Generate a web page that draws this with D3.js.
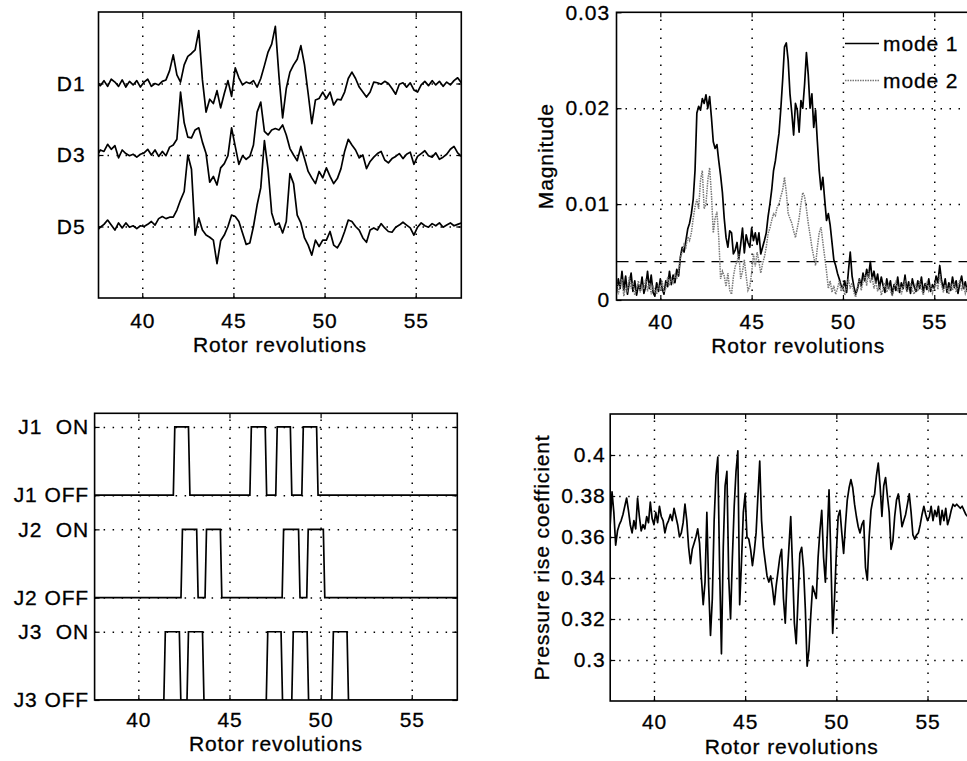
<!DOCTYPE html>
<html><head><meta charset="utf-8">
<script src="https://cdn.jsdelivr.net/npm/d3@7"></script>
<style>
body{margin:0;background:#fff;}
svg{display:block;}
text{font-family:"Liberation Sans",Arial,Helvetica,sans-serif;font-size:21px;letter-spacing:0.9px;fill:#000;stroke:#000;stroke-width:0.3px;}
</style></head><body>
<svg id="c" width="967" height="761"></svg>
<script>
// ---------- shared ----------
const xDomain=[37.6,57.5];
const xTicks=[40,45,50,55];
const xLabel="Rotor revolutions";

// ---------- panel A : sensor traces (offset display) ----------
const traceStartA=37.5, traceStepA=0.2;
const D1=[0.00,-0.03,0.04,-0.04,0.06,0.02,-0.04,0.05,-0.05,0.03,
 -0.02,0.04,-0.05,0.02,0.06,-0.04,0.00,-0.02,0.03,0.05,
 0.18,0.40,0.12,0.02,0.26,0.38,0.42,0.47,0.74,0.05,
 -0.40,-0.22,-0.28,-0.10,-0.34,-0.14,0.04,-0.18,0.22,0.08,
 -0.02,0.02,0.00,0.04,-0.05,0.07,0.25,0.44,0.55,0.80,
 0.10,-0.48,-0.07,0.16,0.26,0.34,0.53,0.26,-0.14,-0.56,
 -0.23,-0.21,-0.12,-0.21,-0.12,-0.30,-0.22,-0.23,-0.12,0.07,
 0.16,0.07,-0.05,-0.12,-0.19,-0.12,0.02,0.01,-0.01,0.03,
 0.00,-0.07,-0.15,-0.01,0.01,-0.05,0.01,-0.09,-0.12,-0.02,
 0.03,-0.03,0.04,-0.02,0.03,-0.04,0.02,-0.02,0.04,0.08,0.01];
const D3=[-0.02,0.07,0.05,0.15,0.08,0.13,-0.04,0.07,0.02,-0.01,
 0.01,-0.03,0.01,0.03,0.08,0.00,0.07,-0.02,0.05,-0.01,
 0.11,0.14,0.22,0.88,0.45,0.25,0.24,0.35,0.38,0.18,
 0.02,-0.38,-0.30,-0.42,-0.18,-0.12,-0.01,0.38,0.12,-0.13,
 -0.01,-0.06,-0.02,0.14,0.60,0.74,0.33,0.28,0.35,0.37,
 0.35,0.42,0.28,0.09,0.00,-0.08,0.12,-0.05,-0.23,-0.32,
 -0.40,-0.23,-0.32,-0.18,-0.30,-0.40,-0.33,-0.19,0.05,0.22,
 0.14,0.07,-0.04,0.00,-0.19,-0.09,-0.03,0.02,0.05,-0.07,
 -0.11,-0.05,-0.02,0.02,-0.05,0.01,0.04,-0.13,-0.02,0.02,
 0.06,-0.01,-0.03,0.03,-0.06,-0.03,0.01,0.08,0.12,0.03,-0.02];
const D5=[-0.06,-0.01,0.03,0.09,0.02,-0.05,0.05,-0.02,0.05,-0.01,
 0.01,-0.03,0.01,0.00,0.03,0.07,0.02,0.11,0.14,0.11,
 0.13,0.13,0.23,0.37,0.49,1.00,0.80,-0.12,0.12,-0.05,
 -0.12,-0.15,-0.19,-0.52,-0.20,-0.12,0.00,0.16,0.14,0.07,
 -0.09,-0.25,-0.23,0.00,0.30,0.54,1.20,0.80,0.19,0.02,
 0.05,-0.09,0.07,0.74,0.60,0.16,0.05,-0.16,-0.26,-0.40,
 -0.19,-0.28,-0.19,-0.19,-0.07,-0.26,-0.30,-0.21,-0.07,0.09,
 0.07,0.00,-0.05,-0.16,-0.22,-0.05,-0.02,-0.05,0.04,-0.02,
 -0.07,-0.08,-0.01,0.02,0.06,0.02,-0.02,-0.12,-0.01,0.05,
 0.01,-0.01,0.04,0.01,0.05,-0.01,0.02,0.05,0.01,0.03,0.05];
const sensorNames=["D1","D3","D5"];
const sensorOffsets=[3,2,1];

// ---------- panel B : mode magnitudes ----------
const traceStartB=37.5, traceStepB=0.1;
const mode1=[0.0015,0.0008,0.0022,0.0012,0.0030,0.0010,0.0025,0.0006,0.0018,0.0028,
 0.0009,0.0020,0.0005,0.0016,0.0010,0.0024,0.0007,0.0014,0.0030,0.0012,
 0.0026,0.0008,0.0004,0.0018,0.0009,0.0022,0.0012,0.0006,0.0020,0.0014,
 0.0030,0.0016,0.0026,0.0018,0.0032,0.0025,0.0045,0.0055,0.0050,0.0062,
 0.0074,0.0080,0.0090,0.0105,0.0135,0.0195,0.0202,0.0198,0.0210,0.0205,
 0.0214,0.0200,0.0212,0.0190,0.0165,0.0158,0.0162,0.0145,0.0130,0.0112,
 0.0085,0.0065,0.0055,0.0072,0.0070,0.0048,0.0052,0.0060,0.0043,0.0058,
 0.0075,0.0049,0.0068,0.0060,0.0055,0.0075,0.0062,0.0070,0.0058,0.0070,
 0.0048,0.0055,0.0062,0.0070,0.0087,0.0100,0.0115,0.0135,0.0145,0.0160,
 0.0174,0.0200,0.0230,0.0264,0.0268,0.0250,0.0215,0.0195,0.0172,0.0205,
 0.0198,0.0175,0.0208,0.0200,0.0225,0.0258,0.0235,0.0200,0.0215,0.0180,
 0.0198,0.0165,0.0135,0.0115,0.0128,0.0105,0.0083,0.0090,0.0078,0.0060,
 0.0042,0.0036,0.0028,0.0022,0.0015,0.0012,0.0020,0.0008,0.0030,0.0050,
 0.0025,0.0014,0.0006,0.0012,0.0022,0.0015,0.0028,0.0020,0.0032,0.0024,
 0.0040,0.0022,0.0030,0.0018,0.0027,0.0012,0.0024,0.0015,0.0008,0.0022,
 0.0012,0.0020,0.0006,0.0016,0.0010,0.0024,0.0008,0.0018,0.0012,0.0026,
 0.0010,0.0019,0.0007,0.0022,0.0014,0.0009,0.0020,0.0012,0.0024,0.0008,
 0.0017,0.0011,0.0022,0.0009,0.0016,0.0012,0.0025,0.0018,0.0036,0.0020,
 0.0012,0.0022,0.0008,0.0018,0.0010,0.0024,0.0013,0.0020,0.0007,0.0017,
 0.0025,0.0012,0.0019,0.0009,0.0022,0.0014,0.0028,0.0016,0.0023,0.0030,0.0018];
const mode2=[0.0010,0.0020,0.0006,0.0016,0.0022,0.0004,0.0014,0.0010,0.0024,0.0012,
 0.0018,0.0005,0.0012,0.0020,0.0008,0.0015,0.0011,0.0022,0.0009,0.0018,
 0.0006,0.0014,0.0010,0.0006,0.0016,0.0010,0.0020,0.0008,0.0012,0.0024,
 0.0015,0.0022,0.0018,0.0026,0.0022,0.0030,0.0045,0.0050,0.0058,0.0055,
 0.0066,0.0062,0.0070,0.0085,0.0097,0.0105,0.0095,0.0125,0.0135,0.0095,
 0.0100,0.0125,0.0138,0.0110,0.0070,0.0085,0.0092,0.0065,0.0022,0.0030,
 0.0025,0.0014,0.0028,0.0010,0.0006,0.0024,0.0035,0.0040,0.0048,0.0022,
 0.0030,0.0042,0.0025,0.0010,0.0014,0.0028,0.0048,0.0035,0.0050,0.0040,
 0.0028,0.0038,0.0045,0.0055,0.0069,0.0075,0.0083,0.0090,0.0088,0.0097,
 0.0100,0.0108,0.0115,0.0128,0.0112,0.0090,0.0085,0.0080,0.0072,0.0065,
 0.0075,0.0085,0.0100,0.0112,0.0108,0.0095,0.0080,0.0068,0.0055,0.0045,
 0.0036,0.0055,0.0070,0.0076,0.0060,0.0045,0.0030,0.0012,0.0020,0.0008,
 0.0015,0.0006,0.0012,0.0020,0.0009,0.0016,0.0005,0.0014,0.0022,0.0012,
 0.0018,0.0008,0.0003,0.0014,0.0022,0.0010,0.0019,0.0026,0.0015,0.0030,
 0.0018,0.0024,0.0012,0.0020,0.0009,0.0016,0.0005,0.0012,0.0018,0.0008,
 0.0015,0.0010,0.0004,0.0013,0.0020,0.0009,0.0016,0.0006,0.0014,0.0019,
 0.0008,0.0012,0.0018,0.0010,0.0006,0.0015,0.0009,0.0020,0.0012,0.0005,
 0.0014,0.0018,0.0010,0.0016,0.0007,0.0013,0.0020,0.0011,0.0027,0.0015,
 0.0008,0.0016,0.0012,0.0006,0.0017,0.0010,0.0019,0.0008,0.0014,0.0021,
 0.0010,0.0016,0.0007,0.0013,0.0018,0.0009,0.0020,0.0012,0.0017,0.0024,0.0013];
const threshold=0.004;
const magTicks=[0,0.01,0.02,0.03];
const magTickLabels=["0","0.01","0.02","0.03"];
const legendNames=["mode 1","mode 2"];

// ---------- panel C : jet states ----------
const jetTickValues=[8,6,5,3,2,0];
const jetTickLabels=["J1  ON","J1 OFF","J2  ON","J2 OFF","J3  ON","J3 OFF"];
const jetOffLevel=[6,3,0];
const jetOnLevel=[8,5,2];
const jetPulses=[
 [[42.0,42.75],[46.2,46.96],[47.62,48.34],[49.05,49.78]],
 [[42.42,43.2],[43.74,44.5],[47.97,48.79],[49.32,50.15]],
 [[41.48,42.25],[42.75,43.52],[47.1,47.83],[48.5,49.26],[50.7,51.45]]
];
const switchTime=0.08;

// ---------- panel D : pressure rise coefficient ----------
const traceStartD=37.5, traceStepD=0.1;
const prc=[0.372,0.366,0.382,0.372,0.356,0.363,0.366,0.368,0.371,0.375,
 0.379,0.373,0.366,0.362,0.368,0.364,0.379,0.370,0.363,0.366,
 0.364,0.370,0.367,0.377,0.369,0.366,0.372,0.367,0.375,0.370,
 0.368,0.362,0.366,0.368,0.371,0.368,0.374,0.370,0.366,0.360,
 0.362,0.367,0.376,0.368,0.355,0.347,0.354,0.357,0.360,0.364,
 0.357,0.340,0.327,0.338,0.372,0.336,0.312,0.330,0.368,0.390,
 0.399,0.345,0.303,0.355,0.385,0.392,0.340,0.320,0.350,0.375,
 0.392,0.402,0.327,0.348,0.372,0.381,0.360,0.359,0.354,0.346,
 0.353,0.362,0.380,0.397,0.368,0.355,0.348,0.341,0.338,0.341,
 0.335,0.327,0.336,0.343,0.350,0.354,0.330,0.318,0.340,0.355,
 0.370,0.345,0.318,0.308,0.330,0.352,0.355,0.345,0.325,0.297,
 0.305,0.322,0.336,0.333,0.330,0.350,0.363,0.373,0.350,0.338,
 0.360,0.383,0.350,0.313,0.330,0.352,0.370,0.373,0.362,0.352,
 0.366,0.378,0.384,0.388,0.384,0.376,0.370,0.365,0.362,0.366,
 0.368,0.345,0.339,0.360,0.373,0.378,0.381,0.390,0.396,0.385,
 0.370,0.385,0.389,0.380,0.372,0.354,0.358,0.370,0.378,0.381,
 0.374,0.365,0.368,0.371,0.376,0.381,0.372,0.361,0.359,0.361,
 0.362,0.366,0.371,0.375,0.371,0.368,0.370,0.375,0.368,0.373,
 0.370,0.375,0.366,0.373,0.368,0.374,0.366,0.369,0.373,0.376,
 0.375,0.376,0.375,0.374,0.375,0.373,0.371,0.370,0.369,0.370,0.368];
const prcTicks=[0.3,0.32,0.34,0.36,0.38,0.4];
const prcTickLabels=["0.3","0.32","0.34","0.36","0.38","0.4"];

// ================= drawing =================
const svg=d3.select("#c");
const defs=svg.append("defs");

function panel(c){
  const x=d3.scaleLinear().domain(xDomain).range([c.x0,c.x1]);
  const y=d3.scaleLinear().domain(c.yDomain).range([c.y1,c.y0]);
  const g=svg.append("g");
  defs.append("clipPath").attr("id",c.id).append("rect")
    .attr("x",c.x0).attr("y",c.y0).attr("width",c.x1-c.x0).attr("height",c.y1-c.y0);
  // grid
  const gg=g.append("g");
  gg.append("g").attr("transform",`translate(0,${c.y1})`)
    .call(d3.axisBottom(x).tickValues(xTicks).tickSize(-(c.y1-c.y0)).tickFormat(""));
  gg.append("g").attr("transform",`translate(${c.x0},0)`)
    .call(d3.axisLeft(y).tickValues(c.gridY).tickSize(-(c.x1-c.x0)).tickFormat(""));
  gg.selectAll(".domain").remove();
  gg.selectAll("line").attr("stroke","#000").attr("stroke-width",1.5).attr("stroke-dasharray","1.5,7.5");
  // axes
  const ax=g.append("g").attr("transform",`translate(0,${c.y1})`)
    .call(d3.axisBottom(x).tickValues(xTicks).tickSizeInner(-5).tickSizeOuter(0).tickPadding(c.xPad));
  const axT=g.append("g").attr("transform",`translate(0,${c.y0})`)
    .call(d3.axisTop(x).tickValues(xTicks).tickSizeInner(-5).tickSizeOuter(0).tickFormat(""));
  const ay=g.append("g").attr("transform",`translate(${c.x0},0)`)
    .call(d3.axisLeft(y).tickValues(c.yTicks).tickSizeInner(-5).tickSizeOuter(0).tickPadding(c.yPad)
      .tickFormat((d,i)=>c.yLabels[i]));
  const ayR=g.append("g").attr("transform",`translate(${c.x1},0)`)
    .call(d3.axisRight(y).tickValues(c.yTicks).tickSizeInner(-5).tickSizeOuter(0).tickFormat(""));
  [ax,axT,ay,ayR].forEach(a=>{a.select(".domain").remove();a.selectAll("line").attr("stroke","#000").attr("stroke-width",1.2);});
  ay.selectAll("text").style("white-space","pre").attr("xml:space","preserve");
  const plot=g.append("g").attr("clip-path",`url(#${c.id})`);
  const frame=()=>g.append("rect").attr("x",c.x0).attr("y",c.y0).attr("width",c.x1-c.x0).attr("height",c.y1-c.y0)
     .attr("fill","none").attr("stroke","#000").attr("stroke-width",1.6);
  g.append("text").attr("x",(c.x0+c.x1)/2).attr("y",c.xLabelY).attr("text-anchor","middle").text(xLabel);
  if(c.yTitle){
    g.append("text").attr("transform",`translate(${c.yTitleX},${(c.y0+c.y1)/2}) rotate(-90)`)
      .attr("text-anchor","middle").text(c.yTitle);
  }
  return {x,y,plot,frame,g};
}

// ---- Panel A ----
const A=panel({id:"cA",x0:98.5,x1:461.3,y0:12,y1:298,yDomain:[0,4],gridY:[1,2,3],
  yTicks:sensorOffsets,yLabels:sensorNames,xPad:15,yPad:13,xLabelY:352});
[D1,D3,D5].forEach((arr,k)=>{
  const line=d3.line().x((d,i)=>A.x(traceStartA+i*traceStepA)).y(d=>A.y(sensorOffsets[k]+d));
  A.plot.append("path").attr("d",line(arr)).attr("fill","none").attr("stroke","#000")
    .attr("stroke-width",1.7).attr("stroke-linejoin","round");
});
A.frame();

// ---- Panel B ----
const B=panel({id:"cB",x0:616.5,x1:979.9,y0:12.3,y1:300,yDomain:[0,0.03],gridY:[0.01,0.02],
  yTicks:magTicks,yLabels:magTickLabels,xPad:14,yPad:6.5,xLabelY:353,yTitle:"Magnitude",yTitleX:553});
B.plot.append("line").attr("x1",B.x(xDomain[0])).attr("x2",B.x(xDomain[1]))
  .attr("y1",B.y(threshold)).attr("y2",B.y(threshold))
  .attr("stroke","#000").attr("stroke-width",1.3).attr("stroke-dasharray","12,7");
const lineB=d3.line().x((d,i)=>B.x(traceStartB+i*traceStepB)).y(d=>B.y(d));
B.plot.append("path").attr("d",lineB(mode1)).attr("fill","none").attr("stroke","#000").attr("stroke-width",1.7).attr("stroke-linejoin","round");
B.plot.append("path").attr("d",lineB(mode2)).attr("fill","none").attr("stroke","#777").attr("stroke-width",1.5).attr("stroke-dasharray","1.5,1");
B.frame();
// legend
const legY=[43.5,80.5];
legendNames.forEach((name,i)=>{
  B.g.append("line").attr("x1",845).attr("x2",879).attr("y1",legY[i]).attr("y2",legY[i])
    .attr("stroke",i===0?"#000":"#777").attr("stroke-width",i===0?1.6:1.4)
    .attr("stroke-dasharray",i===0?null:"1.5,1");
  B.g.append("text").attr("x",883).attr("y",legY[i]+7).text(name);
});

// ---- Panel C ----
const C=panel({id:"cC",x0:94.6,x1:457.3,y0:413.3,y1:700,yDomain:[0,8.4],gridY:[2,3,5,6,8],
  yTicks:jetTickValues,yLabels:jetTickLabels,xPad:12,yPad:5.5,xLabelY:751});
jetPulses.forEach((pulses,k)=>{
  const pts=[[xDomain[0],jetOffLevel[k]]];
  pulses.forEach(([a,b])=>{
    pts.push([a-switchTime,jetOffLevel[k]],[a,jetOnLevel[k]],[b,jetOnLevel[k]],[b+switchTime,jetOffLevel[k]]);
  });
  pts.push([xDomain[1],jetOffLevel[k]]);
  const line=d3.line().x(d=>C.x(d[0])).y(d=>C.y(d[1]));
  C.plot.append("path").attr("d",line(pts)).attr("fill","none").attr("stroke","#000").attr("stroke-width",1.7);
});
C.frame();

// ---- Panel D ----
const D=panel({id:"cD",x0:610.2,x1:973.1,y0:414,y1:701,yDomain:[0.28,0.42],gridY:prcTicks,
  yTicks:prcTicks,yLabels:prcTickLabels,xPad:13.5,yPad:4.5,xLabelY:753.5,
  yTitle:"Pressure rise coefficient",yTitleX:549});
const lineD=d3.line().x((d,i)=>D.x(traceStartD+i*traceStepD)).y(d=>D.y(d));
D.plot.append("path").attr("d",lineD(prc)).attr("fill","none").attr("stroke","#000").attr("stroke-width",1.7).attr("stroke-linejoin","round");
D.frame();
</script>
</body></html>
